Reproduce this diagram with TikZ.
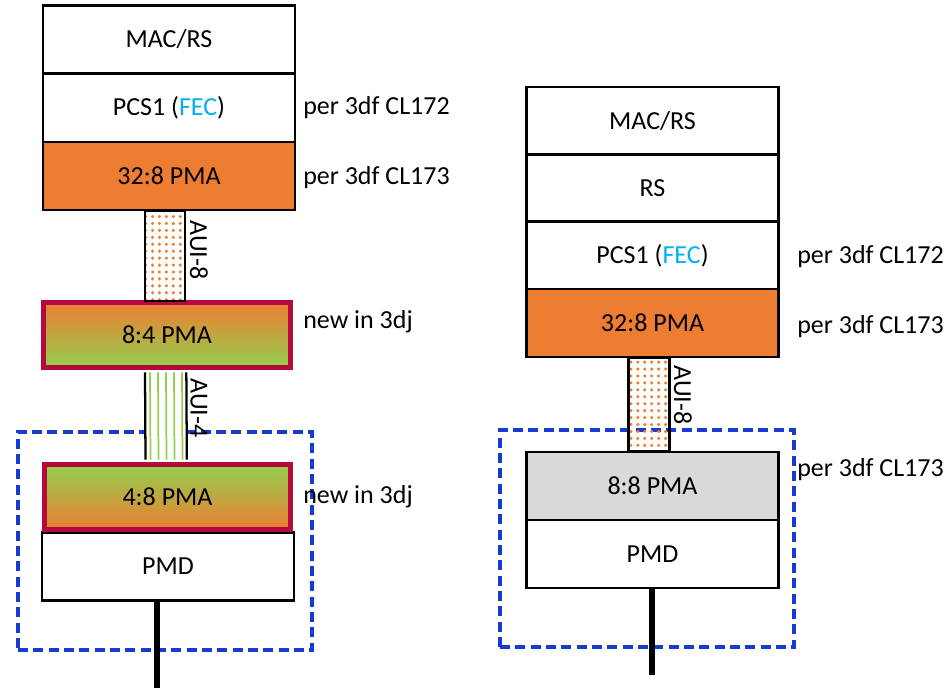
\documentclass[tikz,border=0pt]{standalone}
\usepackage{fontspec}
\setmainfont{Carlito}
\usetikzlibrary{patterns.meta}
\definecolor{orng}{RGB}{237,125,49}
\definecolor{grn}{RGB}{146,208,80}
\definecolor{crim}{RGB}{180,10,60}
\definecolor{fecblue}{RGB}{0,176,240}
\definecolor{dblue}{RGB}{20,60,210}
\definecolor{gry}{RGB}{217,217,217}
\tikzset{
  cell/.style={draw=black, line width=1.7pt, fill=white, minimum width=189pt, minimum height=51pt, inner sep=0pt, font=\fontsize{19.5}{22}\selectfont},
  orcell/.style={cell, fill=orng},
  grcell/.style={cell, fill=gry},
  newdown/.style={cell, draw=crim, line width=3.6pt, top color=orng, bottom color=grn, minimum width=185pt, minimum height=49pt},
  newup/.style={cell, draw=crim, line width=3.6pt, top color=grn, bottom color=orng, minimum width=185pt, minimum height=49pt},
  lab/.style={anchor=west, inner sep=0pt, font=\fontsize{19.5}{22}\selectfont},
  auilab/.style={rotate=-90, inner sep=0pt, font=\fontsize{19.5}{22}\selectfont},
  dashbox/.style={draw=dblue, line width=2.4pt, dash pattern=on 7.5pt off 4pt, inner sep=0pt},
  dotlink/.style={draw=black, line width=1.7pt, pattern={Dots[distance=5.2pt, radius=1.3pt]}, pattern color=orng},
  cable/.style={line width=4.5pt, black}
}
\begin{document}
\begin{tikzpicture}[x=0.75pt,y=-0.75pt]
\useasboundingbox (0,0) rectangle (950,688);
% ---------- left stack ----------
\node[dashbox, minimum width=220.5pt, minimum height=163.5pt] (ldash) at (165,541) {};
\node[cell] (lmac) at (169,39.5) {MAC/RS};
\node[cell] (lpcs) at (169,108) {PCS1 (\textcolor{fecblue}{FEC})};
\node[orcell] (lpma) at (169,176) {32:8 PMA};
\node[cell] (lpmd) at (168,566.5) {PMD};
\node[newdown] (l84) at (167,335) {8:4 PMA};
\node[newup] (l48) at (167.5,497) {4:8 PMA};
% AUI-8 left
\draw[dotlink] ([xshift=-18pt]lpma.south) rectangle ([xshift=12pt,yshift=-1pt]l84.north -| lpma.south);
% AUI-4 left
\fill[white] ([xshift=-17.5pt,yshift=-1.8pt]l84.south) rectangle ([xshift=14pt,yshift=1.8pt]l48.north);
\foreach \dx in {-12.75,-6.75,-0.75,5.25,11.25}
  \draw[grn, line width=1.3pt] ([xshift=\dx pt,yshift=-1.8pt]l84.south) -- ([xshift=\dx pt,yshift=1.8pt]l48.north);
\draw[black, line width=1.7pt] ([xshift=-16.5pt,yshift=-1.8pt]l84.south) -- ([xshift=-16.5pt,yshift=1.8pt]l48.north);
\draw[black, line width=1.7pt] ([xshift=14.5pt,yshift=-1.8pt]l84.south) -- ([xshift=14.5pt,yshift=1.8pt]l48.north);
\node[auilab] (la8) at (199,250) {AUI-8};
\node[auilab] (la4) at (199,408) {AUI-4};
\coordinate (lcab) at (157,688);
\draw[cable] (lcab |- lpmd.south) ++(0,-3) -- (lcab);
\node[lab] (lt1) at (303,108) {per 3df CL172};
\node[lab] (lt2) at (303,178) {per 3df CL173};
\node[lab] (lt3) at (303,322) {new in 3dj};
\node[lab] (lt4) at (303,497) {new in 3dj};
% ---------- right stack ----------
\node[dashbox, minimum width=220.5pt, minimum height=162.75pt] (rdash) at (647,538.5) {};
\node[cell] (rmac) at (652.5,121) {MAC/RS};
\node[cell] (rrs) at (652.5,188.5) {RS};
\node[cell] (rpcs) at (652.5,255.5) {PCS1 (\textcolor{fecblue}{FEC})};
\node[orcell] (rpma) at (652.5,323) {32:8 PMA};
\node[grcell] (r88) at (652.5,486) {8:8 PMA};
\node[cell] (rpmd) at (652.5,554) {PMD};
\draw[dotlink] ([xshift=-18pt]rpma.south) rectangle ([xshift=12.75pt]r88.north);
\node[auilab] (ra8) at (683,395) {AUI-8};
\coordinate (rcab) at (652,675);
\draw[cable] (rcab |- rpmd.south) -- (rcab);
\node[lab] (rt1) at (797,257) {per 3df CL172};
\node[lab] (rt2) at (797,327) {per 3df CL173};
\node[lab] (rt3) at (797,470) {per 3df CL173};
\end{tikzpicture}
\end{document}
